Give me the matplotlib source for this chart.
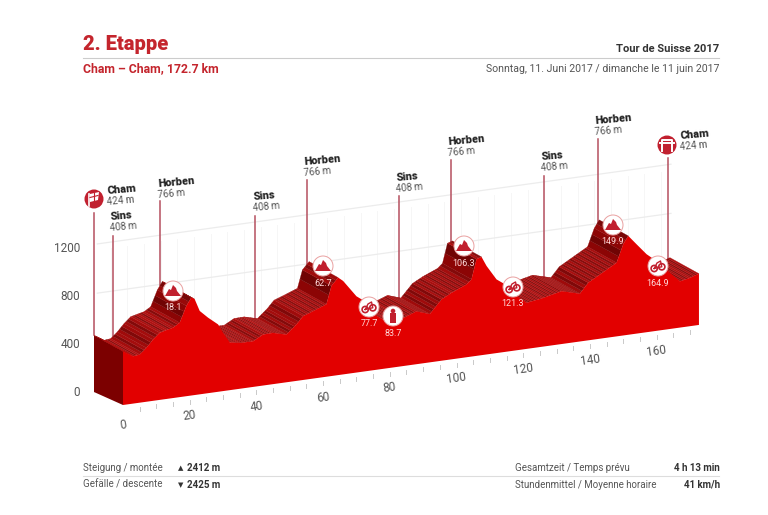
import matplotlib
matplotlib.use('Agg')
import matplotlib.pyplot as plt
import numpy as np
from matplotlib.patches import Circle, Polygon, Rectangle
from matplotlib.transforms import Affine2D

plt.rcParams['font.family'] = ['Roboto', 'DejaVu Sans']

# profile
km = [0, 3, 5, 7, 9, 11, 13, 15, 17, 19, 20.5, 21.5, 23, 25.5, 28.5, 30, 32, 35, 39, 42, 45, 49, 52, 54, 57, 61, 62.5,
      64.5, 66, 68, 70, 72, 74, 76, 78, 80, 84, 88, 92, 95.5, 98.5, 103, 104.5, 106, 107.5, 109, 112, 114, 117, 121,
      126, 131.5, 137, 139.5, 143, 148, 150, 151.5, 154, 157, 160, 164, 167, 170, 172.7]
elev = [437, 385, 391, 438, 498, 546, 560, 572, 605, 734, 797, 779, 678, 614, 548, 474, 389, 373, 371, 415, 417, 388,
        459, 519, 548, 589, 733, 793, 760, 690, 620, 580, 510, 440, 400, 385, 390, 430, 393, 498, 541, 592, 628, 786,
        799, 720, 599, 560, 470, 374, 396, 430, 389, 468, 522, 599, 742, 804, 726, 634, 567, 457, 376, 393, 417]

y_ticks = [0, 400, 800, 1200]
x_ticks = [0, 20, 40, 60, 80, 100, 120, 140, 160]
minor_ticks = list(range(0, 175, 5))

place_names = ['Cham', 'Sins', 'Horben', 'Sins', 'Horben', 'Sins', 'Horben', 'Sins', 'Horben', 'Cham']
place_alt = ['424 m', '408 m', '766 m', '408 m', '766 m', '408 m', '766 m', '408 m', '766 m', '424 m']
place_km = [0, 5.7, 19.8, 48.3, 63.9, 91.5, 107, 135, 151, 172]
place_top = [213, 236, 201, 216, 180, 196, 160, 176, 139, 158]
place_label_x = [107, 110, 158, 253, 304, 396, 448, 541, 595, 680]
place_label_y = [191, 217, 184, 197, 162, 178, 142, 157, 121, 136]

kom_km = ['18.1', '62.7', '106.3', '149.9']
kom_xy = [(173, 291), (323, 266), (464, 246), (613, 225)]
sprint_km = ['77.7', '121.3', '164.9']
sprint_xy = [(369, 307), (513, 287), (658, 266)]
feed_km = ['83.7']
feed_xy = [(393, 316)]

RED = '#e20000'
TITLE = '#c4252d'
MARK = '#c1202f'
GRAY = '#555555'

fig = plt.figure(figsize=(7.68, 5.15), dpi=100)
ax = fig.add_axes([0, 0, 1, 1])
ax.set_xlim(0, 768)
ax.set_ylim(515, 0)
ax.axis('off')

# km / metres to picture position, sheared for the 3d look
SX, SY, SE = 3.335, 0.4636, 0.123
front = Affine2D.from_values(SX, -SY, 0, -SE, 123, 405)
back = Affine2D.from_values(SX, -SY, 0, -SE, 94, 392)
ridge = Affine2D.from_values(SX, -SY, 0, -SE, 94, 389)
pts = np.column_stack([km, elev])
fp = front.transform(pts)
bp = ridge.transform(pts)

# grid on the back wall
for k in minor_ticks:
    ax.plot(*back.transform([[k, 0], [k, 1150]]).T, color='#f6f6f6', lw=0.7, zorder=1)
for e in [800, 1200]:
    ax.plot(*back.transform([[1, e], [173, e]]).T, color='#ececec', lw=0.9, zorder=1)

# side face
ax.add_patch(Polygon(np.vstack([back.transform([[0, 0]]), bp[:1], fp[:1], front.transform([[0, 0]])]),
                     color='#7c0000', lw=0, zorder=2))

# top surface, only the faces that look at us
for i in range(len(km) - 1):
    d = fp[i + 1] - fp[i]
    if d[0] * 16 - d[1] * 30 <= 0:
        continue
    steep = np.clip((elev[i + 1] - elev[i]) / (km[i + 1] - km[i]) / 60, 0, 1)
    base = np.array([0.70, 0.07, 0.07]) * (1 - steep) + np.array([0.55, 0.02, 0.02]) * steep
    n = max(2, int(d[0] / 1.7))
    for j in range(n):
        t0, t1 = j / n, (j + 1) / n
        c = base if j % 2 == 0 else base * 0.8
        quad = [bp[i] + (bp[i + 1] - bp[i]) * t0, bp[i] + (bp[i + 1] - bp[i]) * t1,
                fp[i] + d * t1, fp[i] + d * t0]
        ax.add_patch(Polygon(quad, facecolor=c, edgecolor=c, lw=0.2, zorder=3))

# front face
base_line = front.transform([[172.7, 0], [0, 0]])
ax.add_patch(Polygon(np.vstack([fp, base_line]), color=RED, lw=0, zorder=4))

# axes
for v in y_ticks:
    ax.text(80, 392 - 0.12 * v, str(v), ha='right', va='center', fontsize=8.5, color=GRAY)
for k in minor_ticks[1:]:
    p = front.transform([[k, 0]])[0]
    ax.plot([p[0], p[0]], [p[1] + 4, p[1] + 8], color='#c9c9c9', lw=0.7, zorder=1)
for k in x_ticks:
    p = front.transform([[k, 0]])[0]
    ax.text(p[0], p[1] + 20, str(k), ha='center', va='center', fontsize=8.5, color=GRAY,
            rotation=8, rotation_mode='anchor')

# places
for k, top in zip(place_km, place_top):
    p = ridge.transform([[k, np.interp(k, km, elev)]])[0]
    ax.plot([p[0], p[0]], [top, p[1]], color='#b5505f', lw=1.1, zorder=2.5)
for name, alt, x, y in zip(place_names, place_alt, place_label_x, place_label_y):
    ax.text(x, y, name, fontsize=8, fontweight='black', color='#222222', ha='left', va='center',
            rotation=5, rotation_mode='anchor')
    ax.text(x, y + 11, alt, fontsize=7, color=GRAY, ha='left', va='center', rotation=5, rotation_mode='anchor')


def badge(xy, label):
    ax.add_patch(Circle(xy, 10, facecolor='white', edgecolor='#e9a0a0', lw=0.7, zorder=6))
    ax.text(xy[0], xy[1] + 17, label, fontsize=6.5, color='#ffd9d9', ha='center', va='center', zorder=6)


for xy, label in zip(kom_xy, kom_km):
    badge(xy, label)
    x, y = xy
    ax.add_patch(Polygon([(x - 8, y + 5), (x - 4, y - 2), (x - 2, y - 1), (x, y - 6), (x + 3, y - 3), (x + 4, y),
                          (x + 8, y + 5)], color=MARK, lw=0, zorder=7))
for xy, label in zip(sprint_xy, sprint_km):
    badge(xy, label)
    x, y = xy
    for dx, dy in ((-3.8, 2.5), (3.8, 0.8)):
        ax.add_patch(Circle((x + dx, y + dy), 3.1, fill=False, edgecolor=MARK, lw=1.2, zorder=7))
    ax.plot([x - 3.8, x, x + 3.8, x + 2.5, x - 1, x - 3.8], [y + 2.5, y + 1.5, y + 0.8, y - 5, y - 3, y + 2.5],
            color=MARK, lw=1, zorder=7)
for xy, label in zip(feed_xy, feed_km):
    badge(xy, label)
    x, y = xy
    ax.add_patch(Rectangle((x - 3, y - 3), 6, 10, color=MARK, lw=0, zorder=7))
    ax.add_patch(Circle((x, y - 5), 2.3, color=MARK, lw=0, zorder=7))

# start and finish badges
ax.add_patch(Circle((94, 199), 9.5, color=MARK, lw=0, zorder=6))
ax.add_patch(Polygon([(90, 194), (99, 192), (98, 200), (90, 202)], color='white', lw=0, zorder=7))
ax.plot([89, 89], [194, 206], color='white', lw=1.2, zorder=7)
ax.plot([90, 98], [197.5, 195.5], color=MARK, lw=0.8, zorder=8)
ax.plot([94, 94], [193, 201], color=MARK, lw=0.8, zorder=8)
ax.add_patch(Circle((667, 145), 9.5, color=MARK, lw=0, zorder=6))
ax.plot([662, 662, 672, 672], [151, 140, 140, 151], color='white', lw=1.4, zorder=7)
ax.plot([660, 674], [142.5, 142.5], color='white', lw=1.4, zorder=7)

# header
ax.text(83, 45, '2. Etappe', fontsize=14.5, fontweight='black', color=TITLE, va='center')
ax.text(719, 49, 'Tour de Suisse 2017', fontsize=8, fontweight='bold', color='#333333', ha='right', va='center')
ax.plot([83, 719], [58, 58], color='#cccccc', lw=0.8)
ax.text(83, 69, 'Cham – Cham, 172.7 km', fontsize=8.8, fontweight='bold', color=TITLE, va='center')
ax.text(719, 69, 'Sonntag, 11. Juni 2017 / dimanche le 11 juin 2017', fontsize=7.55, color=GRAY, ha='right', va='center')

# footer
ax.plot([83, 719], [476, 476], color='#dddddd', lw=0.8)
ax.text(83, 468, 'Steigung / montée', fontsize=7, color=GRAY, va='center')
ax.text(83, 485, 'Gefälle / descente', fontsize=7, color=GRAY, va='center')
ax.text(178, 468, '▲', fontsize=5, color='#333333', va='center', family=['DejaVu Sans'])
ax.text(178, 485, '▼', fontsize=5, color='#333333', va='center', family=['DejaVu Sans'])
ax.text(187, 468, '2412 m', fontsize=7, fontweight='bold', color='#333333', va='center')
ax.text(187, 485, '2425 m', fontsize=7, fontweight='bold', color='#333333', va='center')
ax.text(515, 468, 'Gesamtzeit / Temps prévu', fontsize=7, color=GRAY, va='center')
ax.text(515, 485, 'Stundenmittel / Moyenne horaire', fontsize=7, color=GRAY, va='center')
ax.text(720, 468, '4 h 13 min', fontsize=7, fontweight='bold', color='#333333', ha='right', va='center')
ax.text(720, 485, '41 km/h', fontsize=7, fontweight='bold', color='#333333', ha='right', va='center')

fig.savefig('out.png', dpi=100)
